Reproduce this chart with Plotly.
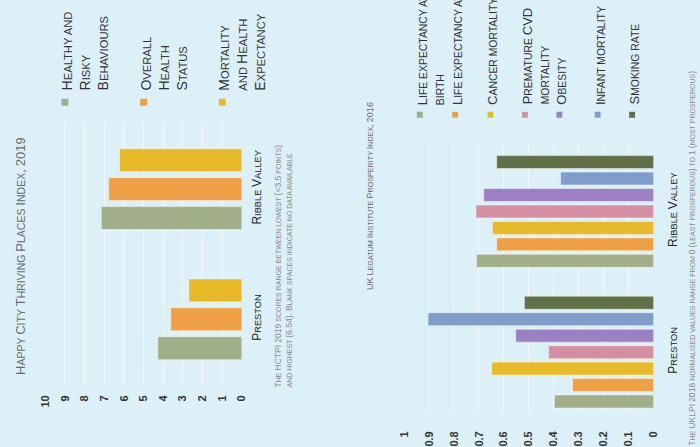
import plotly.graph_objects as go

# ---------------- data ----------------
categories = ["Preston", "Ribble Valley"]

left_series = ["Healthy and Risky Behaviours", "Overall Health Status", "Mortality and Health Expectancy"]
left_healthy = [4.28, 7.15]
left_overall = [3.62, 6.78]
left_mortality = [2.70, 6.23]
left_ticks = [0, 1, 2, 3, 4, 5, 6, 7, 8, 9, 10]

right_series = ["Life expectancy at birth", "Life expectancy at 65", "Cancer mortality",
                "Premature CVD mortality", "Obesity", "Infant mortality", "Smoking rate"]
right_le_birth = [0.398, 0.710]
right_le_65 = [0.325, 0.629]
right_cancer = [0.649, 0.646]
right_cvd = [0.421, 0.712]
right_obesity = [0.553, 0.681]
right_infant = [0.904, 0.373]
right_smoking = [0.518, 0.629]
right_ticks = [0, 0.1, 0.2, 0.3, 0.4, 0.5, 0.6, 0.7, 0.8, 0.9, 1]

left_title = "Happy City Thriving Places Index, 2019"
right_title = "UK Legatum Institute Prosperity Index, 2016"
left_note = ["The HCTPI 2019 scores range between lowest (<3.5 points)",
             "and highest (6.54). Blank spaces indicate no data available"]
right_note = "The UKLPI 2016 normalised values range from 0 (least prosperous) to 1 (most prosperous)"
left_legend_lines = [["Healthy and", "Risky", "Behaviours"],
                     ["Overall", "Health", "Status"],
                     ["Mortality", "and Health", "Expectancy"]]
right_legend_lines = [["Life expectancy at", "birth"], ["Life expectancy at 65"], ["Cancer mortality"],
                      ["Premature CVD", "mortality"], ["Obesity"], ["Infant mortality"], ["Smoking rate"]]

# ---------------- styling ----------------
W, H = 700, 447
BG = "#dcf0f7"
FONT = "Liberation Sans, Arial, sans-serif"
left_colors = ["#a0af87", "#f0a044", "#e6ba28"]
right_colors = ["#a0af87", "#f0a044", "#e6ba28", "#d68ea3", "#9c80c4", "#7f9ec9", "#627048"]


def esc(c):
    return {"<": "&lt;", ">": "&gt;", "&": "&amp;"}.get(c, c)


def sc(text, small):
    """small caps: lowercase letters rendered as smaller capitals"""
    out = []
    run, run_small = "", None
    for ch in text:
        is_small = ch.islower() or ch == " "
        if run_small is None or is_small == run_small:
            run += ch
            run_small = is_small
        else:
            out.append((run, run_small))
            run, run_small = ch, is_small
    if run:
        out.append((run, run_small))
    s = ""
    for r, sm in out:
        t = "".join(esc(c) for c in r.upper())
        if sm:
            s += '<span style="font-size:%.1fpx">%s</span>' % (small, t)
        else:
            s += t
    return s


def px(x):
    return x / W


def py(y):
    return 1 - y / H


fig = go.Figure()

left_vals = [left_healthy, left_overall, left_mortality]
l_pitch, l_width = 29 / 130.5, 23 / 130.5
for i, (name, vals) in enumerate(zip(left_series, left_vals)):
    fig.add_trace(go.Bar(
        y=categories, x=vals, orientation="h", name=name,
        marker=dict(color=left_colors[i], line=dict(color="rgba(255,255,255,0.45)", width=1)),
        offset=(i - 1) * l_pitch - l_width / 2, width=l_width,
        xaxis="x", yaxis="y", showlegend=False))

right_vals = [right_le_birth, right_le_65, right_cancer, right_cvd, right_obesity, right_infant, right_smoking]
r_pitch, r_width = 16.5 / 141, 13 / 141
for i, (name, vals) in enumerate(zip(right_series, right_vals)):
    fig.add_trace(go.Bar(
        y=categories, x=vals, orientation="h", name=name,
        marker=dict(color=right_colors[i], line=dict(color="rgba(255,255,255,0.45)", width=1)),
        offset=(i - 3) * r_pitch - r_width / 2, width=r_width,
        xaxis="x2", yaxis="y2", showlegend=False))

grid = "#f4f7f8"
tickfont = dict(family=FONT, size=11, color="#333333", weight="bold")
cat_text = [sc(c, 9.3) for c in categories]

fig.update_layout(
    width=W, height=H, margin=dict(l=0, r=0, t=0, b=0),
    paper_bgcolor=BG, plot_bgcolor=BG, barmode="overlay",
    font=dict(family=FONT),
    xaxis=dict(domain=[px(40), px(240)], range=[10, 0], tickvals=left_ticks,
               showgrid=True, gridcolor=grid, gridwidth=1, zeroline=False, showline=False,
               tickangle=-90, tickfont=tickfont, ticks="", ticklabelstandoff=8, anchor="y"),
    yaxis=dict(domain=[py(385), py(123)], range=[-0.498, 1.51], type="category",
               categoryorder="array", categoryarray=categories,
               tickmode="array", tickvals=categories, ticktext=cat_text,
               side="right", tickangle=-90, showgrid=False, zeroline=False, showline=False,
               ticks="", tickfont=dict(family=FONT, size=12, color="#222222"),
               ticklabelstandoff=6, anchor="x"),
    xaxis2=dict(domain=[px(405), px(659)], range=[1, 0], tickvals=right_ticks,
                showgrid=True, gridcolor=grid, gridwidth=1, zeroline=False, showline=False,
                tickangle=-90, tickfont=tickfont, ticks="", ticklabelstandoff=16, anchor="y2"),
    yaxis2=dict(domain=[py(413), py(142)], range=[-0.426, 1.496], type="category",
                categoryorder="array", categoryarray=categories,
                tickmode="array", tickvals=categories, ticktext=cat_text,
                side="right", tickangle=-90, showgrid=False, zeroline=False, showline=False,
                ticks="", tickfont=dict(family=FONT, size=12, color="#222222"),
                ticklabelstandoff=10, anchor="x2"),
)

ann = []
shapes = []

# titles
ann.append(dict(text=sc(left_title, 10.5), x=px(14), y=py(378), xanchor="center", yanchor="bottom",
                textangle=-90, showarrow=False, font=dict(family=FONT, size=13, color="#6b6b6b")))
ann.append(dict(text=sc(right_title, 7.2), x=px(371), y=py(293), xanchor="center", yanchor="bottom",
                textangle=-90, showarrow=False, font=dict(family=FONT, size=9, color="#6b6b6b")))

# footnotes
ann.append(dict(text="<br>".join(sc(t, 7.0) for t in left_note), x=px(270), y=py(390),
                xanchor="left", yanchor="bottom", align="left", textangle=-90, showarrow=False,
                font=dict(family=FONT, size=8.6, color="#8a8a8a")))
ann.append(dict(text=sc(right_note, 7.0), x=px(691), y=py(449),
                xanchor="left", yanchor="bottom", align="left", textangle=-90, showarrow=False,
                font=dict(family=FONT, size=8.6, color="#8a8a8a")))

# left legend
left_marker_x = [60, 140, 220]
for i, lines in enumerate(left_legend_lines):
    mx = left_marker_x[i]
    shapes.append(dict(type="rect", xref="paper", yref="paper", x0=px(mx - 3.5), x1=px(mx + 3.5),
                       y0=py(106), y1=py(99), fillcolor=left_colors[i], line=dict(width=0)))
    ann.append(dict(text="<br>".join(sc(t, 11.2) for t in lines), x=px(mx - 8), y=py(93),
                    xanchor="left", yanchor="bottom", align="left", textangle=-90, showarrow=False,
                    font=dict(family=FONT, size=14, color="#333333")))

# right legend
right_marker_x = [421, 457, 493, 528, 563, 602, 637]
for i, lines in enumerate(right_legend_lines):
    mx = right_marker_x[i]
    shapes.append(dict(type="rect", xref="paper", yref="paper", x0=px(mx - 3), x1=px(mx + 3),
                       y0=py(118), y1=py(112), fillcolor=right_colors[i], line=dict(width=0)))
    ann.append(dict(text="<br>".join(sc(t, 10.4) for t in lines), x=px(mx - 7.5), y=py(107),
                    xanchor="left", yanchor="bottom", align="left", textangle=-90, showarrow=False,
                    font=dict(family=FONT, size=13, color="#333333")))

for a in ann:
    a.setdefault("xref", "paper")
    a.setdefault("yref", "paper")

fig.update_layout(annotations=ann, shapes=shapes)
fig.write_html("out.html", config={"displayModeBar": False},
               post_script="document.body.style.margin='0';document.body.style.background='%s';" % BG)
